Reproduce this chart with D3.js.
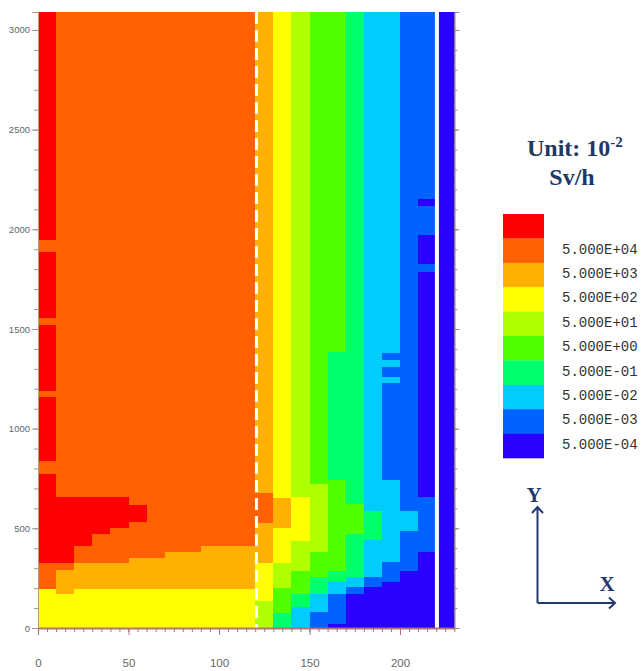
<!DOCTYPE html>
<html>
  <head>
    <meta charset="utf-8">
    <title>Dose rate map</title>
    <script src="https://d3js.org/d3.v7.min.js"></script>
    <style>
      body { margin: 0; background: #fff; }
      .tick text { fill: #666; font-family: "Liberation Sans", Arial, sans-serif; }
      .legend-label { font-family: "Liberation Mono", "Courier New", monospace; font-size: 14px; fill: #333; }
      .unit { font-family: "Liberation Serif", "Times New Roman", serif; font-weight: bold; font-size: 24px; fill: #1f3864; }
    </style>
  </head>
  <body>
    <svg width="642" height="671"></svg>
    <script>
      // dose levels, highest first
      var levelColors = ["#ff0000", "#ff6000", "#ffb000", "#ffff00", "#b0ff00",
                         "#50ff00", "#00ff6c", "#00ccff", "#0062ff", "#2a00ff"];
      var legendLabels = ["5.000E+04", "5.000E+03", "5.000E+02", "5.000E+01", "5.000E+00",
                          "5.000E-01", "5.000E-02", "5.000E-03", "5.000E-04"];

      var Y_TOP = 3090;
      var columnStarts = [0, 10, 20, 30, 40, 50, 60, 70, 80, 90, 100, 110,
                          120, 130, 140, 150, 160, 170, 180, 190, 200, 210, 220];
      var COL_W = 10;

      // per column: [y from, y to, level], bottom to top
      var columnBands = [
        [[0,200,3],[200,328,1],[328,778,0],[778,843,1],[843,1164,0],[1164,1194,1],[1194,1525,0],[1525,1560,1],[1560,1890,0],[1890,1950,1],[1950,Y_TOP,0]],
        [[0,175,3],[175,295,2],[295,328,1],[328,662,0],[662,Y_TOP,1]],
        [[0,200,3],[200,328,2],[328,413,1],[413,662,0],[662,Y_TOP,1]],
        [[0,200,3],[200,328,2],[328,475,1],[475,662,0],[662,Y_TOP,1]],
        [[0,200,3],[200,328,2],[328,503,1],[503,662,0],[662,Y_TOP,1]],
        [[0,200,3],[200,355,2],[355,533,1],[533,622,0],[622,Y_TOP,1]],
        [[0,200,3],[200,355,2],[355,Y_TOP,1]],
        [[0,200,3],[200,386,2],[386,Y_TOP,1]],
        [[0,200,3],[200,386,2],[386,Y_TOP,1]],
        [[0,200,3],[200,413,2],[413,Y_TOP,1]],
        [[0,200,3],[200,413,2],[413,Y_TOP,1]],
        [[0,200,3],[200,413,2],[413,Y_TOP,1]],
        [[0,140,4],[140,331,3],[331,532,2],[532,682,1],[682,Y_TOP,2]],
        [[0,80,6],[80,206,5],[206,331,4],[331,507,3],[507,657,2],[657,Y_TOP,3]],
        [[0,107,7],[107,174,6],[174,291,5],[291,441,4],[441,659,3],[659,Y_TOP,4]],
        [[0,82,8],[82,174,7],[174,258,6],[258,383,5],[383,727,4],[727,Y_TOP,5]],
        [[0,23,9],[23,174,8],[174,232,7],[232,291,6],[291,743,5],[743,1385,6],[1385,Y_TOP,5]],
        [[0,174,9],[174,207,8],[207,258,7],[258,475,6],[475,626,5],[626,Y_TOP,6]],
        [[0,207,9],[207,258,8],[258,442,7],[442,592,6],[592,Y_TOP,7]],
        [[0,232,9],[232,333,8],[333,743,7],[743,1230,8],[1230,1260,7],[1260,1310,8],[1310,1345,7],[1345,1380,8],[1380,Y_TOP,7]],
        [[0,291,9],[291,492,8],[492,592,7],[592,Y_TOP,8]],
        [[0,383,9],[383,659,8],[659,1791,9],[1791,1831,8],[1831,1972,9],[1972,2122,8],[2122,2157,9],[2157,Y_TOP,8]],
        [[0,Y_TOP,9]]
      ];

      var dashedX = 120.7;   // white dashed boundary
      var solidX = 220.4;    // white solid boundary

      var yMajor = [0, 500, 1000, 1500, 2000, 2500, 3000];
      var xMajor = [0, 50, 100, 150, 200];

      var svg = d3.select("svg");

      var x = d3.scaleLinear().domain([0, 230]).range([38, 454.3]);
      var y = d3.scaleLinear().domain([0, Y_TOP]).range([628, 12]);

      var cells = [];
      columnBands.forEach(function(bands, i) {
        bands.forEach(function(b) {
          cells.push({x0: columnStarts[i], x1: columnStarts[i] + COL_W, y0: b[0], y1: b[1], level: b[2]});
        });
      });

      svg.append("g")
          .attr("shape-rendering", "crispEdges")
        .selectAll("rect")
          .data(cells)
          .enter().append("rect")
          .attr("x", function(d) { return x(d.x0); })
          .attr("y", function(d) { return y(d.y1); })
          .attr("width", function(d) { return x(d.x1) - x(d.x0) + 0.6; })
          .attr("height", function(d) { return y(d.y0) - y(d.y1) + 0.6; })
          .attr("fill", function(d) { return levelColors[d.level]; });

      svg.append("line")
          .attr("x1", x(dashedX)).attr("x2", x(dashedX))
          .attr("y1", y(Y_TOP)).attr("y2", y(0))
          .attr("stroke", "#fff").attr("stroke-width", 3)
          .attr("stroke-dasharray", "12,6");

      svg.append("line")
          .attr("x1", x(solidX)).attr("x2", x(solidX))
          .attr("y1", y(Y_TOP)).attr("y2", y(0))
          .attr("stroke", "#fff").attr("stroke-width", 4);

      // left axis
      var left = svg.append("g").attr("transform", "translate(38,0)");
      left.call(d3.axisLeft(y).tickValues(d3.range(0, 3001, 100)).tickSize(4).tickFormat(""));
      left.append("g").call(d3.axisLeft(y).tickValues(yMajor).tickSize(6).tickPadding(2).tickFormat(d3.format("d")));
      left.selectAll("path.domain").attr("stroke", "#c09a80");
      left.selectAll(".tick line").attr("stroke", "#999");
      left.selectAll(".tick text").style("font-size", "9.5px");

      // right axis
      var right = svg.append("g").attr("transform", "translate(454.3,0)");
      right.call(d3.axisRight(y).tickValues(d3.range(0, 3001, 100)).tickSize(3).tickFormat(""));
      right.append("g").call(d3.axisRight(y).tickValues(yMajor).tickSize(5).tickFormat(""));
      right.selectAll("path.domain").attr("stroke", "#a07aa0");
      right.selectAll(".tick line").attr("stroke", "#a07aa0");

      // bottom axis
      var bottom = svg.append("g").attr("transform", "translate(0,628)");
      bottom.call(d3.axisBottom(x).tickValues(d3.range(0, 231, 5)).tickSize(4).tickFormat("").tickSizeOuter(0));
      bottom.append("g").call(d3.axisBottom(x).tickValues(xMajor).tickSize(7).tickPadding(24).tickSizeOuter(0).tickFormat(d3.format("d")));
      bottom.selectAll("path.domain").attr("stroke", "#b07070").attr("stroke-width", 1.5);
      bottom.selectAll(".tick line").attr("stroke", "#b07070");
      bottom.selectAll(".tick text").style("font-size", "11.5px");

      // legend
      var boxH = 24.4, boxTop = 214, boxX = 503, boxW = 41;
      var legend = svg.append("g");
      legend.selectAll("rect")
          .data(levelColors)
          .enter().append("rect")
          .attr("x", boxX)
          .attr("y", function(d, i) { return boxTop + i * boxH; })
          .attr("width", boxW)
          .attr("height", boxH + 0.3)
          .attr("fill", function(d) { return d; });
      legend.selectAll("text")
          .data(legendLabels)
          .enter().append("text")
          .attr("class", "legend-label")
          .attr("x", 562)
          .attr("y", function(d, i) { return boxTop + (i + 1.5) * boxH - 2; })
          .attr("dy", "0.35em")
          .text(function(d) { return d; });

      var unit = svg.append("text").attr("class", "unit").attr("x", 527).attr("y", 156);
      unit.append("tspan").text("Unit: 10");
      unit.append("tspan").attr("dy", -9).style("font-size", "15px").text("-2");
      svg.append("text").attr("class", "unit").attr("x", 572).attr("y", 185)
          .attr("text-anchor", "middle").text("Sv/h");

      // direction indicator
      var navy = "#1f3a70";
      var ind = svg.append("g").attr("stroke", navy).attr("stroke-width", 2).attr("fill", "none");
      ind.append("path").attr("d", "M537.5,603 V507 M532,513 L537.5,507 L543,513");
      ind.append("path").attr("d", "M537.5,603 H615 M609,597.5 L615,603 L609,608.5");
      svg.append("text").attr("class", "unit").attr("x", 534).attr("y", 502)
          .attr("text-anchor", "middle").style("font-size", "21px").style("fill", navy).text("Y");
      svg.append("text").attr("class", "unit").attr("x", 607).attr("y", 591)
          .attr("text-anchor", "middle").style("font-size", "21px").style("fill", navy).text("X");
    </script>
  </body>
</html>
